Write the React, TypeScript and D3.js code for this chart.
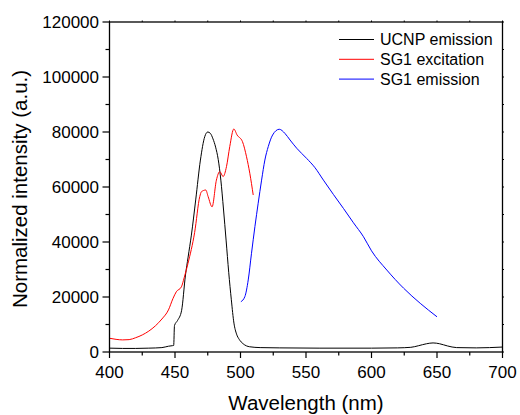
import React from "react";
import * as d3 from "d3";

const ucnpX = [400, 410, 420, 430, 440, 445, 448, 449, 449.6, 452, 455, 458, 460, 462.5, 465.8, 469.4, 472.7, 475, 477, 479, 481, 483, 485, 487, 489, 491, 493, 495, 497, 499, 502, 507, 515, 530, 560, 600, 620, 630, 636, 642, 647, 652, 658, 665, 680, 700];
const ucnpY = [1400, 1300, 1300, 1400, 1600, 2100, 2300, 2400, 9600, 11500, 15000, 28000, 34500, 42500, 55300, 69800, 78300, 80000, 79500, 77500, 74500, 70000, 62500, 52000, 40700, 29000, 19000, 10500, 6500, 4600, 3000, 1900, 1600, 1500, 1400, 1400, 1500, 1700, 2300, 3000, 3300, 3000, 2200, 1600, 1500, 1800];

const excX = [400, 405, 410, 415, 420, 425, 430, 435, 440, 445, 448.5, 451, 454.9, 457, 459.9, 465, 468.9, 470.2, 473.5, 475.3, 478.3, 481.6, 484.2, 486.7, 489.3, 491.8, 494.9, 497.4, 501.5, 504.6, 507.1, 509.7];
const excY = [5000, 4600, 4400, 4500, 5200, 6200, 7600, 9500, 12000, 15300, 19500, 21900, 23700, 27000, 32200, 43500, 56500, 58300, 58900, 56500, 52800, 62500, 65600, 63800, 67400, 74700, 81100, 78900, 76500, 71000, 65000, 57100];

const emX = [500.3, 503.3, 505.9, 508.4, 511, 513.5, 516.1, 518.6, 521.2, 524.5, 529.6, 533.9, 537.8, 542.9, 550.5, 556.9, 563.3, 570.9, 578.6, 586.2, 593.9, 600, 611.7, 624.5, 637.2, 650];
const emY = [18300, 20100, 26200, 35900, 45600, 54100, 62500, 69800, 74700, 78900, 81000, 79500, 77100, 74100, 70400, 67000, 62500, 57300, 52200, 47000, 41900, 36800, 29800, 23200, 17700, 12800];

const xTicks = [400, 450, 500, 550, 600, 650, 700];
const yTicks = [0, 20000, 40000, 60000, 80000, 100000, 120000];
const seriesNames = ["UCNP emission", "SG1 excitation", "SG1 emission"];
const seriesColors = ["#000000", "#ff0000", "#0000ff"];

export default function App() {
  const L = 109.5, R = 502.5, T = 22, B = 352;
  const x = d3.scaleLinear().domain([400, 700]).range([L, R]);
  const y = d3.scaleLinear().domain([0, 120000]).range([B, T]);
  const line = d3.line<[number, number]>().x((d) => x(d[0])).y((d) => y(d[1])).curve(d3.curveMonotoneX);
  const series = [
    d3.zip(ucnpX, ucnpY) as [number, number][],
    d3.zip(excX, excY) as [number, number][],
    d3.zip(emX, emY) as [number, number][],
  ];
  const xMinor = d3.range(400, 701, 25);
  const yMinor = d3.range(0, 120001, 10000);
  const font = "'Liberation Sans', Arial, sans-serif";
  return (
    <svg width={520} height={415} style={{ position: "absolute", left: 0, top: 0 }} fontFamily={font}>
      <rect width={520} height={415} fill="#fff" />
      {series.map((s, i) => (
        <path key={i} d={line(s) || ""} fill="none" stroke={seriesColors[i]} strokeWidth={1} />
      ))}
      <rect x={L} y={T} width={R - L} height={B - T} fill="none" stroke="#000" strokeWidth={1.3} />
      {xMinor.map((v) => {
        const major = xTicks.includes(v);
        return (
          <g key={"x" + v}>
            <line x1={x(v)} x2={x(v)} y1={B} y2={B + (major ? 6 : 3.5)} stroke="#000" strokeWidth={1.2} />
            <line x1={x(v)} x2={x(v)} y1={T} y2={T - 1.5} stroke="#000" strokeWidth={1} />
          </g>
        );
      })}
      {yMinor.map((v) => {
        const major = yTicks.includes(v);
        return (
          <g key={"y" + v}>
            <line x1={L} x2={L - (major ? 7 : 4)} y1={y(v)} y2={y(v)} stroke="#000" strokeWidth={1.2} />
            <line x1={R} x2={R + 1.5} y1={y(v)} y2={y(v)} stroke="#000" strokeWidth={1} />
          </g>
        );
      })}
      {xTicks.map((v) => (
        <text key={"xt" + v} x={x(v)} y={378} fontSize={17} textAnchor="middle" fill="#000">{v}</text>
      ))}
      {yTicks.map((v) => (
        <text key={"yt" + v} x={99} y={y(v) + 6} fontSize={17} textAnchor="end" fill="#000">{v}</text>
      ))}
      <text x={(L + R) / 2} y={410} fontSize={20.5} textAnchor="middle" fill="#000">Wavelength (nm)</text>
      <text transform={`translate(27,${(T + B) / 2 + 2}) rotate(-90)`} fontSize={20.5} textAnchor="middle" fill="#000">Normalized intensity (a.u.)</text>
      {seriesNames.map((n, i) => (
        <g key={n}>
          <line x1={339} x2={374} y1={39.5 + i * 19.8} y2={39.5 + i * 19.8} stroke={seriesColors[i]} strokeWidth={1} />
          <text x={380} y={39.5 + i * 19.8 + 5.5} fontSize={16} fill="#000">{n}</text>
        </g>
      ))}
    </svg>
  );
}
